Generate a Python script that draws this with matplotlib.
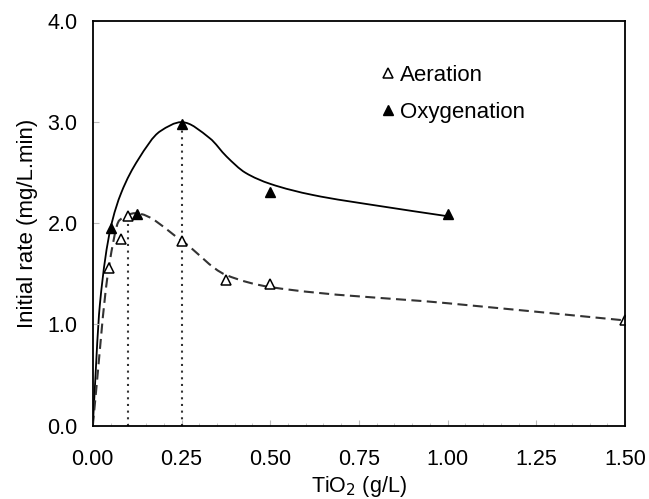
import numpy as np
import matplotlib
matplotlib.use('Agg')
import matplotlib.pyplot as plt
from matplotlib.path import Path
from matplotlib.patches import PathPatch

plt.rcParams['font.family'] = ['Liberation Sans', 'DejaVu Sans']

# measured points
aer_x = [0.045, 0.08, 0.10, 0.25, 0.375, 0.50, 1.50]
aer_y = [1.56, 1.84, 2.07, 1.83, 1.44, 1.40, 1.04]
oxy_x = [0.05, 0.125, 0.25, 0.50, 1.00]
oxy_y = [1.95, 2.09, 2.98, 2.31, 2.09]

# smoothed trend lines (knots)
oxy_fit_x = [0, 0.02, 0.05, 0.08, 0.128, 0.19, 0.25, 0.33, 0.377, 0.43, 0.50, 0.62, 0.81, 1.00]
oxy_fit_y = [0, 1.20, 1.95, 2.30, 2.63, 2.91, 3.00, 2.84, 2.66, 2.50, 2.39, 2.28, 2.17, 2.07]
aer_fit_x = [0, 0.045, 0.075, 0.12, 0.25, 0.375, 0.50, 1.00, 1.50]
aer_fit_y = [0, 1.56, 2.03, 2.10, 1.83, 1.49, 1.37, 1.21, 1.04]

# dotted guide lines (x, top)
guide_x = [0.10, 0.25]
guide_top = [2.07, 2.98]


def smooth_path(x, y):
    # monotone cubic (pchip-style) segments drawn as bezier curves
    x = np.asarray(x, float)
    y = np.asarray(y, float)
    n = len(x)
    h = np.diff(x)
    d = np.diff(y) / h
    m = np.zeros(n)
    m[0] = d[0]
    m[-1] = d[-1]
    for i in range(1, n - 1):
        if d[i - 1] * d[i] <= 0:
            m[i] = 0
        else:
            w1 = 2 * h[i] + h[i - 1]
            w2 = h[i] + 2 * h[i - 1]
            m[i] = (w1 + w2) / (w1 / d[i - 1] + w2 / d[i])
    verts = [(x[0], y[0])]
    codes = [Path.MOVETO]
    for i in range(n - 1):
        t = h[i] / 3
        verts += [(x[i] + t, y[i] + m[i] * t),
                  (x[i + 1] - t, y[i + 1] - m[i + 1] * t),
                  (x[i + 1], y[i + 1])]
        codes += [Path.CURVE4] * 3
    return Path(verts, codes)


fig = plt.figure(figsize=(6.49, 4.99), dpi=100)
ax = fig.add_axes([0.143, 0.147, 0.820, 0.811])

ax.add_patch(PathPatch(smooth_path(oxy_fit_x, oxy_fit_y), fill=False,
                       color='black', lw=1.3))
ax.add_patch(PathPatch(smooth_path(aer_fit_x, aer_fit_y), fill=False,
                       color='#333333', lw=1.5, linestyle=(0, (4.8, 2.6))))
for gx, gt in zip(guide_x, guide_top):
    ax.plot([gx, gx], [0, gt], color='#333333', lw=1.5, linestyle=(0, (1, 2.2)))

ax.plot(aer_x, aer_y, '^', ms=6.5, mfc='white', mec='black', mew=1.1,
        ls='none', label='Aeration')
ax.plot(oxy_x, oxy_y, '^', ms=6.5, mfc='black', mec='black',
        ls='none', label='Oxygenation')

ax.set_xlim(0, 1.5)
ax.set_ylim(0, 4.0)
ax.set_xticks(np.arange(0, 1.51, 0.25))
ax.set_xticks(np.arange(0, 1.51, 0.05), minor=True)
ax.set_yticks(np.arange(0, 4.01, 1.0))
ax.set_xticklabels(['%.2f' % v for v in np.arange(0, 1.51, 0.25)])
ax.set_yticklabels(['%.1f' % v for v in np.arange(0, 4.01, 1.0)])
ax.tick_params(axis='both', which='major', direction='in', length=4,
               color='#bbbbbb', labelsize=15.5)
ax.tick_params(axis='x', which='minor', direction='in', length=2.5,
               color='#bbbbbb')
ax.tick_params(axis='x', which='major', pad=17)
ax.tick_params(axis='y', pad=11)
for s in ax.spines.values():
    s.set_linewidth(1.3)

ax.set_xlabel('TiO$_2$ (g/L)', fontsize=15.5, labelpad=3)
ax.set_ylabel('Initial rate (mg/L.min)', fontsize=16, labelpad=7)

ax.legend(loc='upper left', bbox_to_anchor=(0.50, 0.94), frameon=False,
          fontsize=16, markerscale=1.0, handletextpad=0.15,
          handlelength=0.8, labelspacing=0.72)

fig.savefig('out.png', dpi=100)
